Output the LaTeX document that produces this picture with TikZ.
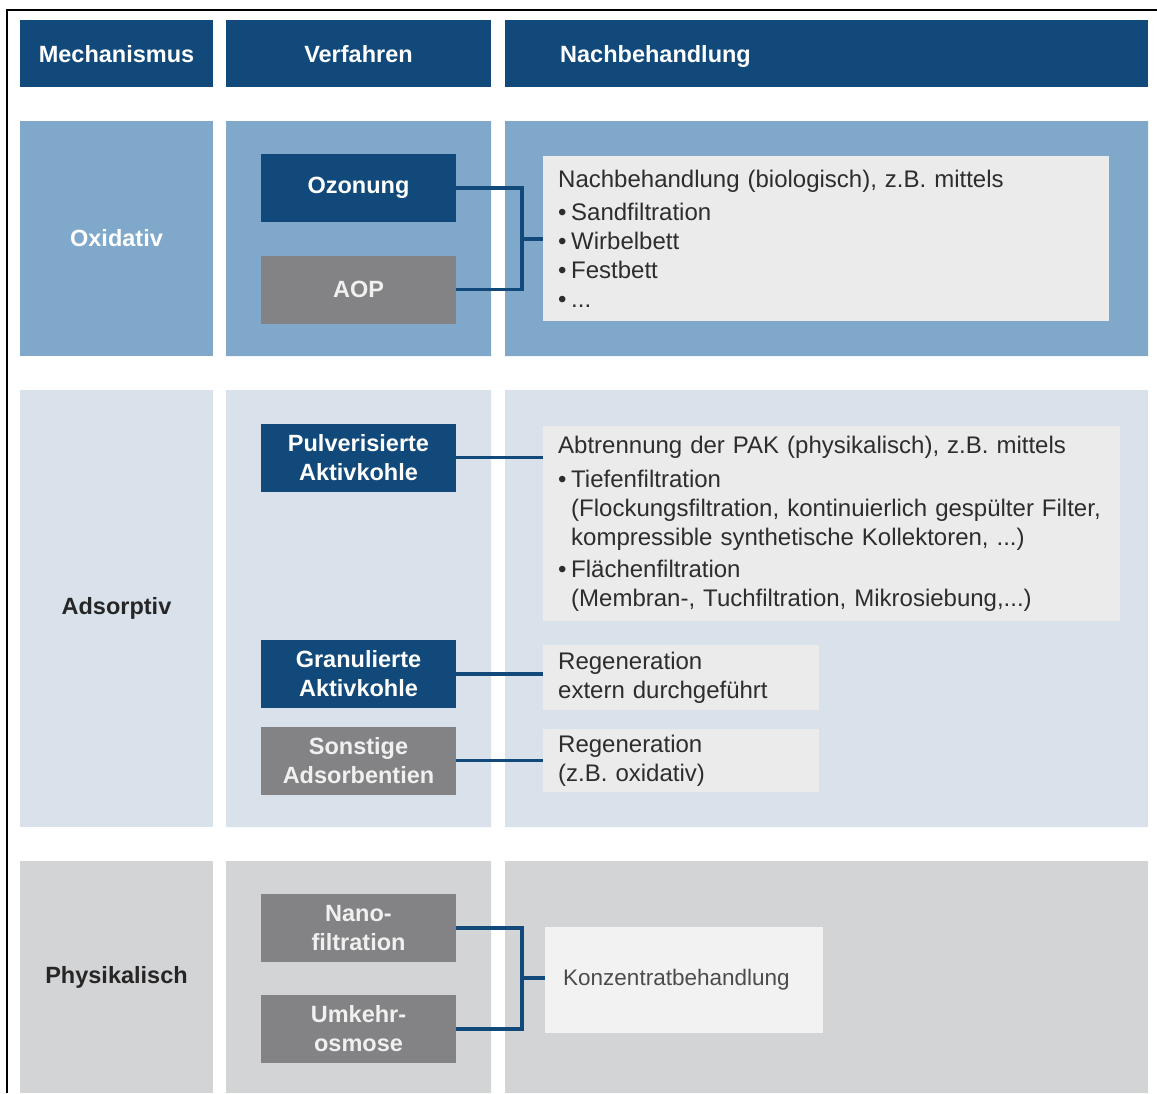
\documentclass[tikz,border=0pt]{standalone}
\usepackage{fontspec}
\setmainfont{Liberation Sans}
\usetikzlibrary{positioning}

\definecolor{dblue}{RGB}{17,73,122}
\definecolor{oxblue}{RGB}{127,168,203}
\definecolor{adsbg}{RGB}{217,225,234}
\definecolor{physbg}{RGB}{211,212,214}
\definecolor{gbox}{RGB}{131,131,133}
\definecolor{tbox}{RGB}{235,235,235}
\definecolor{kbox}{RGB}{242,242,242}
\definecolor{txtgray}{RGB}{45,45,45}

\newcommand{\labfont}{\bfseries\fontsize{23.5}{29}\selectfont}
\newcommand{\txtfont}{\fontsize{24}{29}\selectfont}
\newcommand{\bul}{\makebox[13pt][l]{\textbullet}}
\newcommand{\ind}{\hspace*{13pt}}

\tikzset{
  headbox/.style={fill=dblue, text=white, font=\labfont, minimum height=67pt, inner sep=0pt, text depth=0pt},
  rowcell/.style={minimum width=193pt, inner sep=0pt, font=\labfont, text=black!85},
  procbox/.style={minimum width=195pt, minimum height=68pt, inner sep=0pt, align=center, font=\labfont},
  bluebox/.style={procbox, fill=dblue, text=white},
  graybox/.style={procbox, fill=gbox, text=white!94!black},
  infobox/.style={fill=tbox, text=txtgray, anchor=west, align=left, inner xsep=15pt, inner ysep=0pt, font=\txtfont},
  link/.style={dblue, line width=3.5pt}
}

\begin{document}
\begin{tikzpicture}[x=1pt,y=-1pt]
  \useasboundingbox (0,0) rectangle (1157,1093);
  \draw[line width=2pt] (7,1093) -- (7,10) -- (1157,10);

  % headers
  \node[headbox, minimum width=193pt] (hmech) at (116.5,53.5) {Mechanismus};
  \node[headbox, minimum width=265pt] (hverf) at (358.5,53.5) {Verfahren};
  \node[headbox, anchor=west, align=left, text width=533pt, inner xsep=55pt] (hnach) at (505,53.5) {Nachbehandlung};

  % row panels
  \fill[oxblue] (226,121) rectangle (491,356) (505,121) rectangle (1148,356);
  \fill[adsbg] (226,390) rectangle (491,827) (505,390) rectangle (1148,827);
  \fill[physbg] (226,861) rectangle (491,1093) (505,861) rectangle (1148,1093);

  \node[rowcell, fill=oxblue, text=white, minimum height=235pt] (oxi) at (116.5,238.5) {Oxidativ};
  \node[rowcell, fill=adsbg, minimum height=437pt] (ads) at (116.5,608.5) {Adsorptiv};
  \node[rowcell, fill=physbg, minimum height=232pt] (phys) at (116.5,977) {Physikalisch};

  % Verfahren
  \node[bluebox] (ozon) at (358.5,188) {Ozonung};
  \node[graybox] (aop) at (358.5,289.5) {AOP};
  \node[bluebox] (pak) at (358.5,457.5) {Pulverisierte\\Aktivkohle};
  \node[bluebox] (gak) at (358.5,674) {Granulierte\\Aktivkohle};
  \node[graybox] (sonst) at (358.5,760.5) {Sonstige\\Adsorbentien};
  \node[graybox] (nano) at (358.5,928) {Nano-\\filtration};
  \node[graybox] (ro) at (358.5,1029) {Umkehr-\\osmose};

  % Nachbehandlung
  \node[infobox, text width=536pt, minimum height=165pt] (nach) at (543,238.5)
    {Nachbehandlung (biologisch), z.B. mittels\\[4pt]
     \bul Sandfiltration\\ \bul Wirbelbett\\ \bul Festbett\\ \bul ...};
  \node[infobox, text width=547pt, minimum height=195pt] (abtr) at (543,523.5)
    {Abtrennung der PAK (physikalisch), z.B. mittels\\[5pt]
     \bul Tiefenfiltration\\
     \ind(Flockungsfiltration, kontinuierlich gespülter Filter,\\
     \ind kompressible synthetische Kollektoren, ...)\\[3pt]
     \bul Flächenfiltration\\
     \ind(Membran-, Tuchfiltration, Mikrosiebung,...)};
  \node[infobox, text width=246pt, minimum height=65pt] (regext) at (543,677.5)
    {Regeneration\\extern durchgeführt};
  \node[infobox, text width=246pt, minimum height=63pt] (regox) at (543,760.5)
    {Regeneration\\(z.B. oxidativ)};
  \node[infobox, fill=kbox, text=black!70, inner xsep=18pt, text width=242pt, minimum height=106pt,
        font=\fontsize{22.5}{28}\selectfont] (konz) at (545,980) {Konzentratbehandlung};

  % connectors
  \coordinate (j1) at (522,239);
  \coordinate (j2) at (522,978);
  \draw[link] (ozon.east) -| (j1) |- (aop.east);
  \draw[link] (j1) -- (j1 -| nach.west);
  \draw[link] (pak.east) -- (pak.east -| abtr.west);
  \draw[link] (gak.east) -- (gak.east -| regext.west);
  \draw[link] (sonst.east) -- (sonst.east -| regox.west);
  \draw[link] (nano.east) -| (j2) |- (ro.east);
  \draw[link] (j2) -- (j2 -| konz.west);
\end{tikzpicture}
\end{document}
